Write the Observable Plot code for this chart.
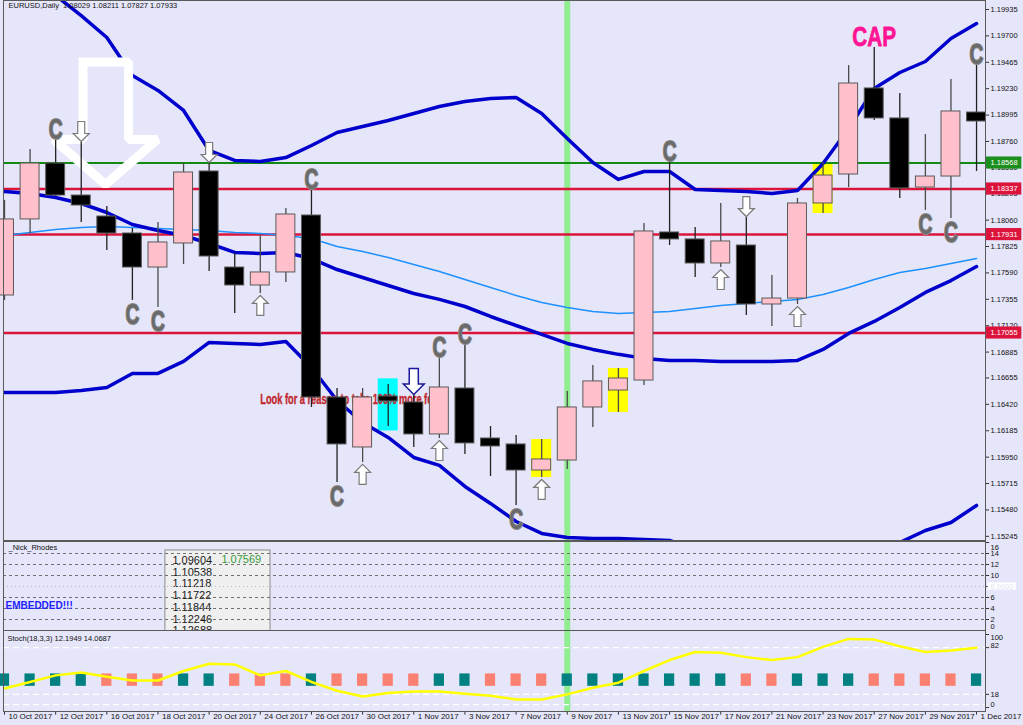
<!DOCTYPE html>
<html>
<head>
<meta charset="utf-8">
<script src="https://cdn.jsdelivr.net/npm/d3@7"></script>
<script src="https://cdn.jsdelivr.net/npm/@observablehq/plot@0.6"></script>
<style>
  html, body { margin: 0; padding: 0; background: #e6e6fa; }
  #chart { position: relative; width: 1023px; height: 725px; overflow: hidden; background: #e6e6fa; }
  #chart svg { position: absolute; left: 0; }
</style>
</head>
<body>
<div id="chart"></div>
<script>
// ---------- DATA ----------
const barDates = ["10 Oct","11 Oct","12 Oct","13 Oct","16 Oct","17 Oct","18 Oct","19 Oct","20 Oct","23 Oct",
  "24 Oct","25 Oct","26 Oct","27 Oct","30 Oct","31 Oct","1 Nov","2 Nov","3 Nov","6 Nov",
  "7 Nov","8 Nov","9 Nov","10 Nov","13 Nov","14 Nov","15 Nov","16 Nov","17 Nov","20 Nov",
  "21 Nov","22 Nov","23 Nov","24 Nov","27 Nov","28 Nov","29 Nov","30 Nov","1 Dec"];
const tickDates = ["10 Oct","12 Oct","16 Oct","18 Oct","20 Oct","24 Oct","26 Oct","30 Oct","1 Nov","3 Nov",
  "7 Nov","9 Nov","13 Nov","15 Nov","17 Nov","21 Nov","23 Nov","27 Nov","29 Nov","1 Dec"];
const tickYear = "2017";

const open  = [1.17389,1.18066,1.18564,1.18279,1.18092,1.17941,1.17638,1.17852,1.18493,1.17638,
  1.17478,1.17594,1.18101,1.16481,1.16036,1.16490,1.16437,1.16152,1.16561,1.16116,
  1.16063,1.15831,1.15920,1.16392,1.16543,1.16632,1.17950,1.17888,1.17674,1.17834,
  1.17309,1.17362,1.18208,1.18466,1.19232,1.18965,1.18350,1.18448,1.19018];
const high  = [1.18235,1.18689,1.18795,1.18751,1.18181,1.17985,1.18039,1.18564,1.18564,1.17763,
  1.17923,1.18164,1.18350,1.16561,1.16561,1.16597,1.16570,1.16855,1.16971,1.16223,
  1.16143,1.16107,1.16535,1.16766,1.16739,1.18030,1.18600,1.17994,1.18208,1.18083,
  1.17567,1.18253,1.18573,1.19436,1.19597,1.19187,1.18822,1.19312,1.19463];
const low   = [1.17345,1.17941,1.18270,1.18039,1.17790,1.17345,1.17282,1.17665,1.17603,1.17229,
  1.17407,1.17505,1.16392,1.15724,1.15903,1.16223,1.16036,1.16116,1.15974,1.15778,
  1.15520,1.15769,1.15840,1.16214,1.16348,1.16588,1.17834,1.17549,1.17638,1.17211,
  1.17113,1.17309,1.18119,1.18350,1.18947,1.18253,1.18146,1.18074,1.18493];
const close = [1.18066,1.18564,1.18279,1.18190,1.17941,1.17638,1.17861,1.18484,1.17736,1.17478,
  1.17594,1.18110,1.16481,1.16063,1.16481,1.16446,1.16152,1.16570,1.16072,1.16045,
  1.15831,1.15929,1.16392,1.16624,1.16650,1.17959,1.17888,1.17674,1.17870,1.17309,
  1.17362,1.18208,1.18457,1.19276,1.18965,1.18342,1.18448,1.19027,1.18938];

const upperBand = [1.20416,1.20193,1.20060,1.19881,1.19686,1.19347,1.19214,1.19036,1.18680,1.18591,
  1.18582,1.18617,1.18724,1.18840,1.18893,1.18947,1.19009,1.19071,1.19116,1.19143,
  1.19152,1.19009,1.18787,1.18573,1.18422,1.18493,1.18493,1.18333,1.18324,1.18315,
  1.18297,1.18324,1.18564,1.18876,1.19232,1.19374,1.19472,1.19677,1.19810];
const middleBand = [1.18315,1.18297,1.18261,1.18208,1.18128,1.18021,1.17968,1.17923,1.17852,1.17772,
  1.17763,1.17772,1.17718,1.17620,1.17549,1.17478,1.17407,1.17354,1.17291,1.17202,
  1.17122,1.17042,1.16962,1.16909,1.16865,1.16829,1.16811,1.16811,1.16802,1.16802,
  1.16802,1.16811,1.16909,1.17051,1.17158,1.17282,1.17416,1.17522,1.17647];
const lowerBand = [1.16526,1.16526,1.16526,1.16543,1.16570,1.16695,1.16695,1.16802,1.16971,1.16962,
  1.16953,1.16980,1.16748,1.16454,1.16258,1.16125,1.15947,1.15876,1.15689,1.15538,
  1.15377,1.15271,1.15235,1.15226,1.15226,1.15217,1.15208,1.15137,1.15074,1.15030,
  1.15012,1.15030,1.15066,1.15101,1.15137,1.15190,1.15297,1.15368,1.15520];
const movingAvg = [1.17923,1.17950,1.17977,1.17994,1.18003,1.17994,1.17985,1.17977,1.17968,1.17950,
  1.17941,1.17923,1.17896,1.17825,1.17781,1.17727,1.17665,1.17603,1.17531,1.17460,
  1.17389,1.17327,1.17282,1.17247,1.17229,1.17238,1.17247,1.17273,1.17300,1.17318,
  1.17336,1.17354,1.17398,1.17460,1.17531,1.17594,1.17629,1.17674,1.17718];

const stochMain = [26,35,44,48,42,37,37,50,60,59,44,50,35,23,15,20,22,22,19,16,
  11,11,18,27,34,50,65,76,75,69,65,69,83,94,93,84,76,78,82];
const stochState = [1,1,1,1,0,0,0,1,1,0,0,0,1,0,0,0,0,1,1,0,0,0,1,1,1,1,1,1,1,0,0,1,1,1,0,0,0,0,1];

const priceTicks = [1.19935,1.19700,1.19465,1.19230,1.18995,1.18760,1.18530,1.18295,1.18060,1.17825,
  1.17590,1.17355,1.17120,1.16885,1.16655,1.16420,1.16185,1.15950,1.15715,1.15480,1.15245];
const greenLevels = [1.18568];
const redLevels = [1.18337, 1.17931, 1.17055];

const markerDate = "9 Nov";
const yellowDates = ["8 Nov", "13 Nov", "23 Nov"];
const cyanDates = ["31 Oct"];
const cAboveDates = ["12 Oct", "26 Oct", "2 Nov", "3 Nov", "15 Nov", "1 Dec"];
const cBelowDates = ["17 Oct", "18 Oct", "27 Oct", "7 Nov", "29 Nov", "30 Nov"];
const upArrowDates = ["24 Oct", "30 Oct", "2 Nov", "8 Nov", "17 Nov", "22 Nov"];
const downArrowDates = ["13 Oct", "20 Oct", "20 Nov"];
const blueArrowDates = ["1 Nov"];
const capDate = "27 Nov";
const noteDate = "24 Oct", notePrice = 1.16462;
const noteText = "Look for a reason to take 100% more for";
// big hollow arrow (bar index, price)
const bigArrowPath = [[3.07,1.19468],[4.85,1.19468],[4.85,1.18778],[5.98,1.18778],[3.95,1.18377],
  [1.92,1.18778],[3.07,1.18778],[3.07,1.19468]];

const titleText = "EURUSD,Daily\u00a0\u00a01.08029 1.08211 1.07827 1.07933";
const indName = "_Nick_Rhodes";
const embeddedText = "EMBEDDED!!!";
const tableLevels = ["1.09604","1.10538","1.11218","1.11722","1.11844","1.12246","1.12688"];
const tableAside = "1.07569";
const tableBox = {x1: 6.29, x2: 10.40, y1: -3, y2: 14.55};
const indTicks = [14, 12, 10, 6, 4, 2];
const indTop = 16, indBottom = 0, indMid = 8;
const indMidLabel = "8.0000";
const stochName = "Stoch(18,3,3) 12.1949 14.0687";
const stochLevels = [82, 18, 4];

// ---------- HELPERS ----------
const FONT = "'Liberation Sans', Arial, sans-serif";
const ix = d => barDates.indexOf(d);
const bars = barDates.map((d, i) => ({i, d, o: open[i], h: high[i], l: low[i], c: close[i]}));
const upBars = bars.filter(b => b.c >= b.o);
const downBars = bars.filter(b => b.c < b.o);
const xEnd = 38.35;
const xDom = [-0.039, xEnd];
const half = 0.37;
const GREEN_V = "#90ee90";
const baseStyle = {background: "transparent", fontFamily: FONT, overflow: "hidden"};

function arrowSymbol(dir) {
  return {draw(ctx, size) {
    const k = Math.sqrt(size / Math.PI) / 10;
    const pts = [[0,-10],[8,-2],[3.5,-2],[3.5,10],[-3.5,10],[-3.5,-2],[-8,-2]];
    pts.forEach(([px, py], j) => { const X = px * k, Y = py * k * dir; j ? ctx.lineTo(X, Y) : ctx.moveTo(X, Y); });
    ctx.closePath();
  }};
}
const UP = arrowSymbol(1), DOWN = arrowSymbol(-1);

// horizontally condense selected labels (impact-like narrow lettering)
function squeeze(svg, test, sx) {
  svg.querySelectorAll("text").forEach(t => {
    if (test(t.textContent)) {
      const tr = t.getAttribute("transform") || "";
      t.setAttribute("transform", tr + ` scale(${sx},1)`);
    }
  });
}

// ---------- MAIN PANEL ----------
const main = Plot.plot({
  width: 1023, height: 541, marginTop: 0, marginBottom: 1, marginLeft: 3, marginRight: 38,
  style: baseStyle,
  x: {domain: xDom, axis: null},
  y: {domain: [1.15199, 1.20015], range: [541, 0], axis: null},
  marks: [
    Plot.ruleX([markerDate], {x: ix, stroke: GREEN_V, strokeWidth: 6}),
    Plot.rect(yellowDates, {x1: d => ix(d) - 0.39, x2: d => ix(d) + 0.39, y1: d => low[ix(d)], y2: d => high[ix(d)], fill: "#ffff00"}),
    Plot.rect(cyanDates, {x1: d => ix(d) - 0.39, x2: d => ix(d) + 0.39, y1: d => low[ix(d)] - 0.0004, y2: d => high[ix(d)] + 0.0005, fill: "#00ffff"}),
    Plot.ruleY(greenLevels, {stroke: "#138a13", strokeWidth: 2}),
    Plot.ruleY(redLevels, {stroke: "#dc143c", strokeWidth: 2.5}),
    Plot.line(bars, {x: "i", y: d => movingAvg[d.i], stroke: "#1e90ff", strokeWidth: 1.5, clip: true}),
    Plot.line(bars, {x: "i", y: d => upperBand[d.i], stroke: "#0000cd", strokeWidth: 3.5, clip: true}),
    Plot.line(bars, {x: "i", y: d => middleBand[d.i], stroke: "#0000cd", strokeWidth: 3.5, clip: true}),
    Plot.line(bars, {x: "i", y: d => lowerBand[d.i], stroke: "#0000cd", strokeWidth: 3.5, clip: true}),
    Plot.line(bigArrowPath, {x: d => d[0], y: d => d[1], stroke: "white", strokeWidth: 9, strokeLinejoin: "miter", strokeLinecap: "square"}),
    Plot.text([noteText], {x: () => ix(noteDate), y: () => notePrice, text: d => d, textAnchor: "start",
      fontSize: 14, fontWeight: "bold", fill: "#c0282d", stroke: "#c0282d", strokeWidth: 0.4}),
    Plot.ruleX(upBars, {x: "i", y1: "l", y2: "h", stroke: "#4a4a4a", strokeWidth: 1.3}),
    Plot.ruleX(downBars, {x: "i", y1: "l", y2: "h", stroke: "#222", strokeWidth: 1.3}),
    Plot.rect(upBars, {x1: d => d.i - half, x2: d => d.i + half, y1: "o", y2: "c", fill: "#ffc0cb", stroke: "#5a5a5a", strokeWidth: 1}),
    Plot.rect(downBars, {x1: d => d.i - half, x2: d => d.i + half, y1: "o", y2: "c", fill: "#000000", stroke: "#5a5a5a", strokeWidth: 1}),
    Plot.dot(upArrowDates, {x: ix, y: d => low[ix(d)], dy: 12, symbol: UP, r: 10, fill: "white", stroke: "#7a7a7a", strokeWidth: 1.2}),
    Plot.dot(downArrowDates, {x: ix, y: d => high[ix(d)], dy: -11, symbol: DOWN, r: 10, fill: "white", stroke: "#7a7a7a", strokeWidth: 1.2}),
    Plot.dot(blueArrowDates, {x: ix, y: d => high[ix(d)], dy: -6, symbol: DOWN, r: 13, fill: "white", stroke: "#1a1a9a", strokeWidth: 1.5}),
    Plot.text(cAboveDates, {x: ix, y: d => high[ix(d)], dy: -8, text: () => "C", fontSize: 30, fontWeight: "bold",
      fill: "#6a6a6a", stroke: "#8c8c8c", strokeWidth: 2, paintOrder: "stroke"}),
    Plot.text(cBelowDates, {x: ix, y: d => low[ix(d)], dy: 14, text: () => "C", fontSize: 30, fontWeight: "bold",
      fill: "#6a6a6a", stroke: "#8c8c8c", strokeWidth: 2, paintOrder: "stroke"}),
    Plot.text([capDate], {x: ix, y: d => high[ix(d)], dy: -10, text: () => "CAP", fontSize: 28, fontWeight: "bold",
      fill: "#ff1493", stroke: "#ff1493", strokeWidth: 0.8}),
    Plot.ruleY(priceTicks, {x1: () => xEnd, x2: () => xEnd + 0.16, stroke: "#333"}),
    Plot.text(priceTicks, {y: d => d, frameAnchor: "right", dx: 5, textAnchor: "start", text: d => d.toFixed(5), fontSize: 7.5, fill: "#111"}),
    Plot.rect(greenLevels, {x1: () => xEnd + 0.04, x2: () => xEnd + 1.42, y1: d => d - 0.00054, y2: d => d + 0.00054, fill: "#1b8f1b"}),
    Plot.rect(redLevels, {x1: () => xEnd + 0.04, x2: () => xEnd + 1.42, y1: d => d - 0.00054, y2: d => d + 0.00054, fill: "#dc143c"}),
    Plot.text(greenLevels.concat(redLevels), {y: d => d, frameAnchor: "right", dx: 5, textAnchor: "start", text: d => d.toFixed(5), fontSize: 7.5, fill: "white"}),
    Plot.text([titleText], {frameAnchor: "top-left", dx: 5, dy: 2, lineAnchor: "top", textAnchor: "start", text: d => d, fontSize: 7.5, fill: "#111"}),
    Plot.frame({stroke: "#5a5a5a"})
  ]
});
main.style.top = "0px";
squeeze(main, s => s === "C", 0.64);
squeeze(main, s => s === "CAP", 0.74);
squeeze(main, s => s === noteText, 0.66);

// ---------- INDICATOR PANEL ----------
const ind = Plot.plot({
  width: 1023, height: 89, marginTop: 0, marginBottom: 0, marginLeft: 3, marginRight: 38,
  style: baseStyle,
  x: {domain: xDom, axis: null},
  y: {domain: [0, 16], range: [89, 1], axis: null},
  marks: [
    Plot.ruleX([markerDate], {x: ix, stroke: GREEN_V, strokeWidth: 6}),
    Plot.rect([tableBox], {x1: "x1", x2: "x2", y1: "y1", y2: "y2", fill: "#efefef", stroke: "#8c8c8c", clip: true}),
    Plot.text([tableLevels.join("\n")], {x: () => tableBox.x1, y: () => tableBox.y2, dx: 7, dy: 5, textAnchor: "start",
      lineAnchor: "top", lineHeight: 1.07, text: d => d, fontSize: 11, fill: "#1a1a1a", clip: true}),
    Plot.text([tableAside], {x: () => tableBox.x1, y: () => tableBox.y2, dx: 56, dy: 5, textAnchor: "start",
      lineAnchor: "top", text: d => d, fontSize: 11, fill: "#3a9a3a"}),
    Plot.ruleY(indTicks, {stroke: "#707070", strokeDasharray: "3,3"}),
    Plot.ruleY([indMid], {stroke: "#b8b8c8", strokeDasharray: "1,3"}),
    Plot.text([indName], {frameAnchor: "top-left", dx: 5, dy: 3, lineAnchor: "top", textAnchor: "start", text: d => d, fontSize: 7.5, fill: "#111"}),
    Plot.text([embeddedText], {frameAnchor: "bottom-left", dx: 2, dy: -22, textAnchor: "start", text: d => d, fontSize: 10,
      fontWeight: "bold", fill: "#1e1eff"}),
    Plot.ruleY(indTicks.concat([indTop, indBottom, indMid]), {x1: () => xEnd, x2: () => xEnd + 0.16, stroke: "#333"}),
    Plot.text(indTicks, {y: d => d, frameAnchor: "right", dx: 5, textAnchor: "start", text: d => String(d), fontSize: 7.5, fill: "#111"}),
    Plot.text([indTop], {y: d => d, frameAnchor: "right", dx: 5, dy: 5, textAnchor: "start", text: d => String(d), fontSize: 7.5, fill: "#111"}),
    Plot.text([indBottom], {y: d => d, frameAnchor: "right", dx: 5, dy: -4, textAnchor: "start", text: d => String(d), fontSize: 7.5, fill: "#111"}),
    Plot.rect([indMid], {x1: () => xEnd + 0.1, x2: () => xEnd + 1.2, y1: d => d - 0.65, y2: d => d + 0.65, fill: "white"}),
    Plot.text([indMidLabel], {y: () => indMid, frameAnchor: "right", dx: 5, textAnchor: "start", text: d => d, fontSize: 7.5, fill: "#e4e4f4"}),
    Plot.frame({stroke: "#5a5a5a"})
  ]
});
ind.style.top = "541px";

// ---------- STOCHASTIC PANEL ----------
const sto = Plot.plot({
  width: 1023, height: 95, marginTop: 0, marginBottom: 14, marginLeft: 3, marginRight: 38,
  style: baseStyle,
  x: {domain: xDom, axis: null},
  y: {domain: [0, 100], range: [77, 4], axis: null},
  marks: [
    Plot.ruleX([markerDate], {x: ix, stroke: GREEN_V, strokeWidth: 6}),
    Plot.ruleY(stochLevels, {stroke: "white", strokeDasharray: "6,4", strokeWidth: 1.2}),
    Plot.rect(bars.filter(b => stochState[b.i] === 1), {x1: b => b.i - 0.2, x2: b => b.i + 0.2, y1: () => 29, y2: () => 46, fill: "#008080"}),
    Plot.rect(bars.filter(b => stochState[b.i] === 0), {x1: b => b.i - 0.2, x2: b => b.i + 0.2, y1: () => 29, y2: () => 46, fill: "#fa8072"}),
    Plot.line(bars, {x: "i", y: d => stochMain[d.i], stroke: "#ffff00", strokeWidth: 2.5}),
    Plot.text([stochName], {frameAnchor: "top-left", dx: 4, dy: 5, lineAnchor: "top", textAnchor: "start", text: d => d, fontSize: 7.5, fill: "#111"}),
    Plot.ruleY([100, 82, 18, 0], {x1: () => xEnd, x2: () => xEnd + 0.16, stroke: "#333"}),
    Plot.text([100], {y: d => d, frameAnchor: "right", dx: 5, dy: 3, textAnchor: "start", text: d => String(d), fontSize: 7.5, fill: "#111"}),
    Plot.text([82], {y: d => d, frameAnchor: "right", dx: 5, dy: -2, textAnchor: "start", text: d => String(d), fontSize: 7.5, fill: "#111"}),
    Plot.text([18], {y: d => d, frameAnchor: "right", dx: 5, textAnchor: "start", text: d => String(d), fontSize: 7.5, fill: "#111"}),
    Plot.text([0], {y: d => d, frameAnchor: "right", dx: 5, dy: -3, textAnchor: "start", text: d => String(d), fontSize: 7.5, fill: "#111"}),
    Plot.ruleX(tickDates, {x: ix, y1: () => -5.5, y2: () => -10.5, stroke: "#333"}),
    Plot.text(tickDates, {x: ix, frameAnchor: "bottom", dx: 4, dy: 7, textAnchor: "start", text: d => d + " " + tickYear, fontSize: 8, fill: "#111"}),
    Plot.frame({stroke: "#5a5a5a"})
  ]
});
sto.style.top = "630px";

const host = document.getElementById("chart");
host.append(main, ind, sto);
</script>
</body>
</html>
